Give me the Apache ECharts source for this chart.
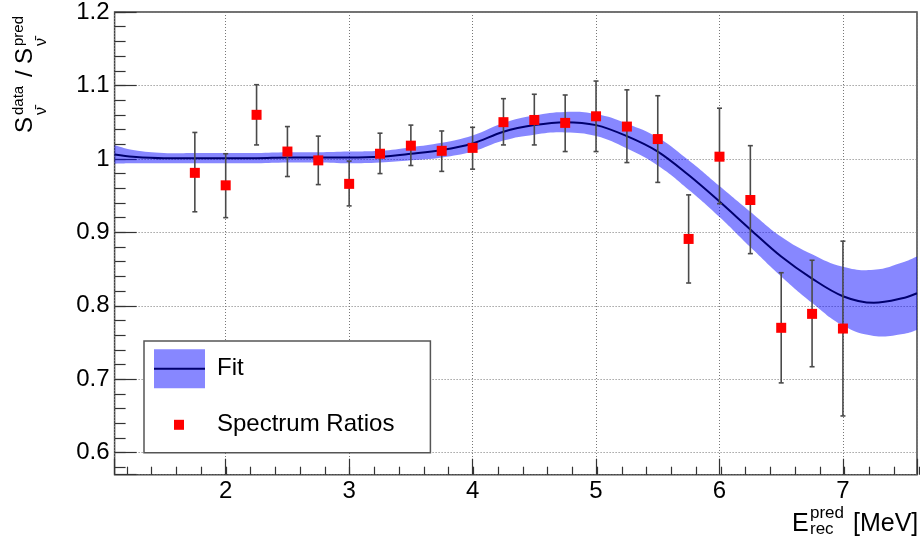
<!DOCTYPE html>
<html><head><meta charset="utf-8">
<script src="https://cdn.jsdelivr.net/npm/echarts@6/dist/echarts.min.js"></script>
<style>html,body{margin:0;padding:0;background:#fff}#c{width:920px;height:541px}</style>
</head><body><div id="c"></div>
<script>
// ---- data ----
const binCenters = [1.75, 2.0, 2.25, 2.5, 2.75, 3.0, 3.25, 3.5, 3.75, 4.0, 4.25, 4.5, 4.75, 5.0, 5.25, 5.5, 5.75, 6.0, 6.25, 6.5, 6.75, 7.0];
const ratios     = [0.981, 0.964, 1.060, 1.010, 0.998, 0.966, 1.007, 1.018, 1.011, 1.015, 1.050, 1.053, 1.049, 1.058, 1.044, 1.027, 0.891, 1.003, 0.944, 0.770, 0.789, 0.769];
const ratioHigh  = [1.036, 1.007, 1.101, 1.044, 1.031, 0.997, 1.035, 1.046, 1.038, 1.043, 1.082, 1.088, 1.087, 1.106, 1.094, 1.086, 0.951, 1.069, 1.018, 0.845, 0.862, 0.888];
const ratioLow   = [0.928, 0.920, 1.019, 0.976, 0.965, 0.936, 0.980, 0.991, 0.983, 0.986, 1.019, 1.019, 1.010, 1.010, 0.995, 0.968, 0.831, 0.939, 0.871, 0.695, 0.717, 0.650];

const fitX   = [1.1, 1.25, 1.5, 1.75, 2.0, 2.25, 2.5, 2.75, 3.0, 3.25, 3.5, 3.75, 4.0, 4.25, 4.5, 4.75, 5.0, 5.25, 5.5, 5.75, 6.0, 6.25, 6.5, 6.75, 7.0, 7.25, 7.5, 7.6];
const fitY   = [1.006, 1.003, 1.001, 1.001, 1.001, 1.001, 1.002, 1.002, 1.002, 1.003, 1.007, 1.012, 1.021, 1.037, 1.046, 1.050, 1.046, 1.031, 1.010, 0.978, 0.942, 0.904, 0.867, 0.837, 0.813, 0.804, 0.811, 0.817];
const fitErr = [0.0125, 0.009, 0.007, 0.007, 0.007, 0.007, 0.007, 0.007, 0.008, 0.008, 0.009, 0.010, 0.011, 0.012, 0.013, 0.014, 0.015, 0.017, 0.019, 0.020, 0.021, 0.024, 0.027, 0.033, 0.040, 0.045, 0.049, 0.050];

const legendNames = ['Fit', 'Spectrum Ratios'];
const xTitleParts = ['E', 'pred', 'rec', '[MeV]'];
const yTitleParts = ['S', 'data', 'ν̄', '/', 'S', 'ν̄', 'pred'];

// ---- layout ----
const FONT = '"Liberation Sans", Arial, Helvetica, sans-serif';
const W = 920, H = 541;
const GL = 114.6, GR = 1, GT = 12, GB = 66.3;
const X0 = 1.1, X1 = 7.6, Y0 = 0.57, Y1 = 1.2;
const pxX = (W - GL - GR) / (X1 - X0);
const pxY = (H - GT - GB) / (Y1 - Y0);
const TICK = '#333';
const BAND = 'rgba(0,0,255,0.47)';

const chart = echarts.init(document.getElementById('c'), null, {renderer: 'canvas'});

function renderBand(params, api) {
  if (params.dataIndex !== 0) return null;
  const upper = fitX.map((x, i) => api.coord([x, fitY[i] + fitErr[i]]));
  const lower = fitX.map((x, i) => api.coord([x, fitY[i] - fitErr[i]])).reverse();
  // duplicate the four corner points so the smoothed outline keeps straight vertical ends
  const pts = [upper[0]].concat(upper, [upper[upper.length - 1]], [lower[0]], lower, [lower[lower.length - 1]]);
  return {type: 'polygon', shape: {points: pts, smooth: 0.45}, style: {fill: BAND, stroke: null}};
}

function renderErrorBar(params, api) {
  const x = api.value(0);
  const top = api.coord([x, api.value(2)]);
  const bot = api.coord([x, api.value(1)]);
  const cap = 2.5;
  const style = {stroke: '#4a4a4a', lineWidth: 1.6};
  return {type: 'group', children: [
    {type: 'line', shape: {x1: top[0], y1: top[1], x2: bot[0], y2: bot[1]}, style},
    {type: 'line', shape: {x1: top[0] - cap, y1: top[1], x2: top[0] + cap, y2: top[1]}, style},
    {type: 'line', shape: {x1: bot[0] - cap, y1: bot[1], x2: bot[0] + cap, y2: bot[1]}, style}
  ]};
}

const hiddenAxis = (gi, min, max) => ({gridIndex: gi, type: 'value', min, max, show: false});

const option = {
  animation: false,
  backgroundColor: '#fff',
  textStyle: {fontFamily: FONT},
  grid: [
    {left: GL, right: GR, top: GT, bottom: GB, show: true, borderColor: '#444', borderWidth: 1.5, backgroundColor: 'transparent', containLabel: false},
    {left: GL + (1.2 - X0) * pxX, right: GR, top: GT, bottom: GB, show: false},
    {left: GL, right: GR, top: GT, bottom: GB + (0.58 - Y0) * pxY, show: false}
  ],
  xAxis: [
    {gridIndex: 0, type: 'value', min: X0, max: X1, splitNumber: 5,
     axisLine: {show: false},
     axisTick: {show: true, inside: true, length: 16, lineStyle: {color: TICK, width: 1.2}},
     axisLabel: {show: true, fontSize: 24, color: '#000', margin: 5, fontFamily: FONT,
       formatter: v => Math.abs(v - Math.round(v)) < 1e-6 ? String(Math.round(v)) : ''},
     splitLine: {show: true, lineStyle: {type: [1, 2], color: '#777', width: 1}}},
    {gridIndex: 1, type: 'value', min: 1.2, max: X1, interval: 0.2,
     axisLine: {show: false}, axisLabel: {show: false}, splitLine: {show: false},
     axisTick: {show: true, inside: true, length: 8, lineStyle: {color: TICK, width: 1.2}}},
    hiddenAxis(2, X0, X1)
  ],
  yAxis: [
    {gridIndex: 0, type: 'value', min: Y0, max: Y1, splitNumber: 5,
     axisLine: {show: false},
     axisTick: {show: true, inside: true, length: 22, lineStyle: {color: TICK, width: 1.2}},
     axisLabel: {show: true, fontSize: 24, color: '#000', margin: 5, fontFamily: FONT,
       formatter: v => Math.abs(v * 10 - Math.round(v * 10)) < 1e-6 ? String(Math.round(v * 10) / 10) : ''},
     splitLine: {show: true, lineStyle: {type: [1, 2], color: '#777', width: 1}}},
    hiddenAxis(1, 0, 1),
    {gridIndex: 2, type: 'value', min: 0.58, max: Y1, interval: 0.02,
     axisLine: {show: false}, axisLabel: {show: false}, splitLine: {show: false},
     axisTick: {show: true, inside: true, length: 11, lineStyle: {color: TICK, width: 1.2}}}
  ],
  legend: {
    orient: 'vertical', left: 144, top: 341,
    padding: [8.3, 36, 8.4, 6],
    itemWidth: 62, itemHeight: 39, itemGap: 17,
    backgroundColor: '#fff', borderColor: '#555', borderWidth: 1.5, borderRadius: 0,
    textStyle: {fontSize: 24, color: '#000', fontFamily: FONT},
    selectedMode: false,
    data: [
      {name: legendNames[0], icon: 'path://M0,0M62,39M4,0h51v39h-51z', itemStyle: {color: BAND, borderWidth: 0, opacity: 1}},
      {name: legendNames[1], icon: 'path://M0,0M62,39M24,14.5h10v10h-10z', itemStyle: {color: '#ff0000', borderWidth: 0, opacity: 1}}
    ]
  },
  series: [
    {name: 'Fit', type: 'custom', xAxisIndex: 0, yAxisIndex: 0, renderItem: renderBand, silent: true,
     itemStyle: {color: BAND}, data: [[fitX[0], fitY[0]]], z: 2},
    {name: 'Fit', type: 'line', xAxisIndex: 0, yAxisIndex: 0, smooth: 0.35, symbol: 'none', silent: true,
     itemStyle: {color: '#00006e'},
     lineStyle: {color: '#00006e', width: 2}, data: fitX.map((x, i) => [x, fitY[i]]), z: 3},
    {name: 'Spectrum Ratios', type: 'custom', xAxisIndex: 0, yAxisIndex: 0, renderItem: renderErrorBar, silent: true,
     encode: {x: 0, y: [1, 2]}, data: binCenters.map((x, i) => [x, ratioLow[i], ratioHigh[i]]), z: 4},
    {name: 'Spectrum Ratios', type: 'scatter', xAxisIndex: 0, yAxisIndex: 0, symbol: 'rect', symbolSize: 10, silent: true,
     itemStyle: {color: '#ff0000', opacity: 1}, data: binCenters.map((x, i) => [x, ratios[i]]), z: 5}
  ],
  graphic: [
    // navy line over the Fit legend swatch
    {type: 'line', z: 100, shape: {x1: 154, y1: 368.8, x2: 205, y2: 368.8}, style: {stroke: '#00006e', lineWidth: 2}},
    // x-axis title
    {type: 'text', z: 100, x: 792, y: 524.3, style: {text: xTitleParts[0], font: '25px ' + FONT, fill: '#000', verticalAlign: 'middle'}},
    {type: 'text', z: 100, x: 810, y: 513.5, style: {text: xTitleParts[1], font: '17px ' + FONT, fill: '#000', verticalAlign: 'middle'}},
    {type: 'text', z: 100, x: 810, y: 529.5, style: {text: xTitleParts[2], font: '17px ' + FONT, fill: '#000', verticalAlign: 'middle'}},
    {type: 'text', z: 100, x: 853, y: 524.3, style: {text: xTitleParts[3], font: '25px ' + FONT, fill: '#000', verticalAlign: 'middle'}},
    // y-axis title (rotated)
    {type: 'group', z: 100, x: 33.5, y: 133, rotation: Math.PI / 2, children: [
      {type: 'text', x: 0, y: -8.3, style: {text: yTitleParts[0], font: '24px ' + FONT, fill: '#000', verticalAlign: 'middle'}},
      {type: 'text', x: 18, y: -14.5, style: {text: yTitleParts[1], font: '15px ' + FONT, fill: '#000', verticalAlign: 'middle'}},
      {type: 'text', x: 18, y: 8, style: {text: yTitleParts[2], font: '16px ' + FONT, fill: '#000', verticalAlign: 'middle'}},
      {type: 'text', x: 56, y: -8.3, style: {text: yTitleParts[3], font: '24px ' + FONT, fill: '#000', verticalAlign: 'middle'}},
      {type: 'text', x: 69, y: -8.3, style: {text: yTitleParts[4], font: '24px ' + FONT, fill: '#000', verticalAlign: 'middle'}},
      {type: 'text', x: 87, y: 8, style: {text: yTitleParts[5], font: '16px ' + FONT, fill: '#000', verticalAlign: 'middle'}},
      {type: 'text', x: 87, y: -14.5, style: {text: yTitleParts[6], font: '15px ' + FONT, fill: '#000', verticalAlign: 'middle'}}
    ]}
  ]
};
chart.setOption(option);
</script></body></html>
